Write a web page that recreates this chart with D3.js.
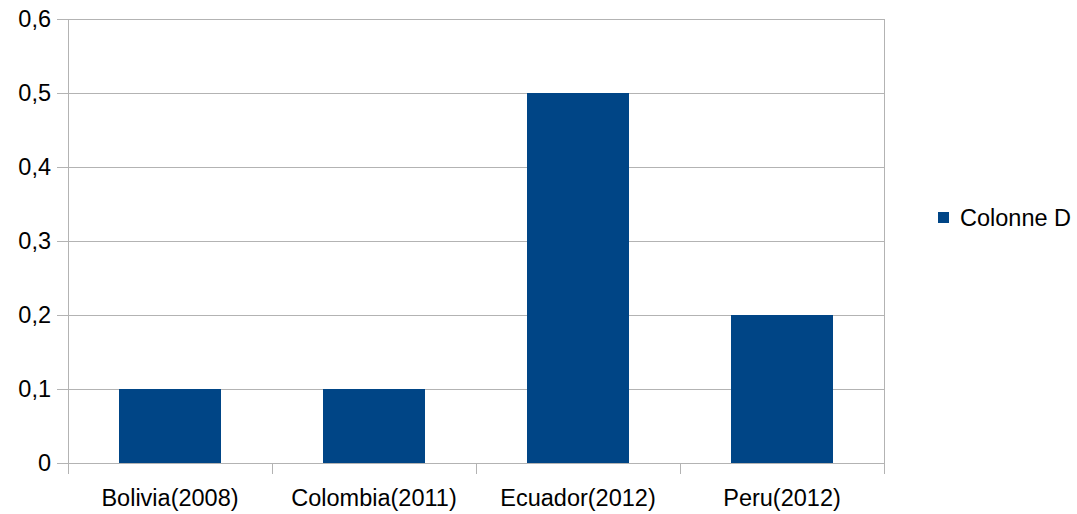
<!DOCTYPE html>
<html><head><meta charset="utf-8">
<script src="https://cdn.jsdelivr.net/npm/d3@7"></script>
<style>body{margin:0;background:#fff}svg{display:block}text{font-family:"Liberation Sans",Arial,sans-serif;fill:#000}</style>
</head><body><svg id="c" width="1077" height="514"></svg>
<script>
const categories = ["Bolivia(2008)", "Colombia(2011)", "Ecuador(2012)", "Peru(2012)"];
const values = [0.1, 0.1, 0.5, 0.2];
const yTicks = [0, 0.1, 0.2, 0.3, 0.4, 0.5, 0.6];
const seriesName = "Colonne D";

const svg = d3.select("#c");
const m = {l: 68, r: 884, t: 19, b: 463};
const x = d3.scaleBand().domain(categories).range([m.l, m.r]).paddingInner(0).paddingOuter(0);
const y = d3.scaleLinear().domain([0, 0.6]).range([m.b, m.t]);
const fmt = d => d === 0 ? "0" : String(d).replace(".", ",");
const grid = "#b3b3b3";
const fs = 23.5;

svg.append("g").selectAll("line").data(yTicks).join("line")
  .attr("x1", m.l - 11).attr("x2", m.r).attr("y1", d => Math.round(y(d)) + 0.5).attr("y2", d => Math.round(y(d)) + 0.5)
  .attr("stroke", grid).attr("stroke-width", 1);
svg.append("line").attr("x1", m.l + 0.5).attr("x2", m.l + 0.5).attr("y1", m.t).attr("y2", m.b + 11).attr("stroke", grid);
svg.append("line").attr("x1", m.r + 0.5).attr("x2", m.r + 0.5).attr("y1", m.t).attr("y2", m.b + 11).attr("stroke", grid);
svg.append("g").selectAll("line").data(categories.slice(1)).join("line")
  .attr("x1", d => Math.round(x(d)) + 0.5).attr("x2", d => Math.round(x(d)) + 0.5)
  .attr("y1", m.b).attr("y2", m.b + 11).attr("stroke", grid);

svg.append("g").selectAll("rect").data(values).join("rect")
  .attr("x", (d, i) => x(categories[i]) + x.bandwidth() * 0.25)
  .attr("width", x.bandwidth() * 0.5)
  .attr("y", d => y(d)).attr("height", d => y(0) - y(d))
  .attr("fill", "#004586");

svg.append("g").selectAll("text").data(yTicks).join("text")
  .attr("x", 51).attr("y", d => y(d)).attr("dy", "0.36em")
  .attr("text-anchor", "end").attr("font-size", fs).text(fmt);
svg.append("g").selectAll("text").data(categories).join("text")
  .attr("x", d => x(d) + x.bandwidth() / 2).attr("y", 506)
  .attr("text-anchor", "middle").attr("font-size", fs).text(d => d);

svg.append("rect").attr("x", 938).attr("y", 212).attr("width", 11).attr("height", 11).attr("fill", "#004586");
svg.append("text").attr("x", 960).attr("y", 226).attr("font-size", fs).text(seriesName);
</script></body></html>
